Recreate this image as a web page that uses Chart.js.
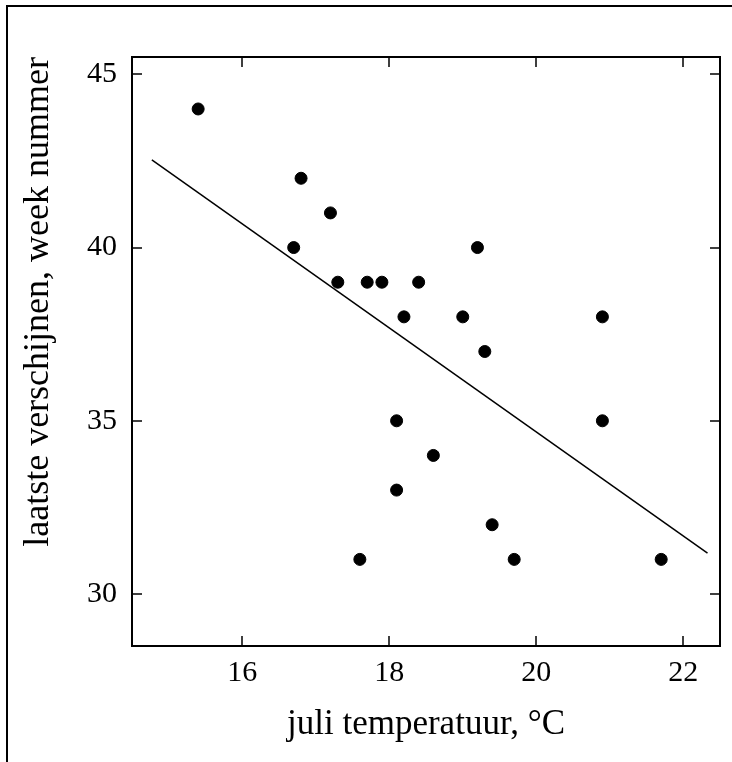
<!DOCTYPE html>
<html>
<head>
<meta charset="utf-8">
<script src="https://cdn.jsdelivr.net/npm/chart.js@4"></script>
<style>
  body { margin: 0; background: #fff; }
  canvas { display: block; }
</style>
</head>
<body>
<canvas id="ctx" width="732" height="762"></canvas>
<script>
// july temperature (°C) and week number of last appearance
const temps = [15.4, 16.8, 16.7, 17.2, 17.3, 17.7, 17.9, 18.2, 18.4, 19.0, 19.2,
               19.3, 20.9, 20.9, 18.1, 18.6, 18.1, 17.6, 19.4, 19.7, 21.7];
const weeks = [44, 42, 40, 41, 39, 39, 39, 38, 39, 38, 40,
               37, 38, 35, 35, 34, 33, 31, 32, 31, 31];

// regression line end points
const fitX = [14.77, 22.33];
const fitY = [42.53, 31.18];

const xTicks = [16, 18, 20, 22];
const yTicks = [30, 35, 40, 45];

const serif = '"Liberation Serif", "Times New Roman", serif';

// frame with inward ticks on all four sides + page border
const framePlugin = {
  id: 'frame',
  beforeDraw(chart) {
    const c = chart.ctx;
    c.save();
    c.fillStyle = '#fff';
    c.fillRect(0, 0, chart.width, chart.height);
    c.strokeStyle = '#000';
    c.lineWidth = 2;
    c.beginPath();
    c.moveTo(7, chart.height);
    c.lineTo(7, 6);
    c.lineTo(chart.width, 6);
    c.stroke();
    c.restore();
  },
  afterDraw(chart) {
    const c = chart.ctx;
    const a = chart.chartArea;
    const x = chart.scales.x, y = chart.scales.y;
    const len = 10;
    c.save();
    c.strokeStyle = '#000';
    c.lineWidth = 2;
    c.strokeRect(a.left, a.top, a.right - a.left, a.bottom - a.top);
    c.lineWidth = 1.5;
    c.beginPath();
    xTicks.forEach(v => {
      const px = Math.round(x.getPixelForValue(v));
      c.moveTo(px, a.bottom); c.lineTo(px, a.bottom - len);
      c.moveTo(px, a.top); c.lineTo(px, a.top + len);
    });
    yTicks.forEach(v => {
      const py = Math.round(y.getPixelForValue(v));
      c.moveTo(a.left, py); c.lineTo(a.left + len, py);
      c.moveTo(a.right, py); c.lineTo(a.right - len, py);
    });
    c.stroke();
    c.restore();
  }
};

const chart = new Chart(document.getElementById('ctx'), {
  type: 'scatter',
  data: {
    datasets: [{
      data: temps.map((t, i) => ({ x: t, y: weeks[i] })),
      backgroundColor: '#000',
      borderColor: '#000',
      pointRadius: 6,
      pointHoverRadius: 6
    }, {
      type: 'line',
      data: fitX.map((t, i) => ({ x: t, y: fitY[i] })),
      borderColor: '#000',
      borderWidth: 1.5,
      pointRadius: 0,
      fill: false
    }]
  },
  options: {
    responsive: false,
    animation: false,
    events: [],
    layout: { padding: { top: 57, right: 12, left: 0, bottom: 0 } },
    plugins: {
      legend: { display: false },
      tooltip: { enabled: false }
    },
    scales: {
      x: {
        type: 'linear',
        min: 14.5,
        max: 22.5,
        afterBuildTicks: axis => { axis.ticks = xTicks.map(v => ({ value: v })); },
        afterFit: axis => { axis.height = 116; },
        grid: { display: false, drawTicks: false },
        border: { display: false },
        ticks: {
          color: '#000',
          padding: 9,
          maxRotation: 0,
          font: { family: serif, size: 30 }
        },
        title: {
          display: true,
          text: 'juli temperatuur, °C',
          color: '#000',
          padding: { top: 0, bottom: 16 },
          font: { family: serif, size: 35 }
        }
      },
      y: {
        min: 28.5,
        max: 45.5,
        afterBuildTicks: axis => { axis.ticks = yTicks.map(v => ({ value: v })); },
        afterFit: axis => { axis.width = 132; },
        grid: { display: false, drawTicks: false },
        border: { display: false },
        ticks: {
          color: '#000',
          padding: 15,
          font: { family: serif, size: 30 }
        },
        title: {
          display: true,
          text: 'laatste verschijnen, week nummer',
          align: 'end',
          color: '#000',
          padding: { top: 17, bottom: 0 },
          font: { family: serif, size: 36 }
        }
      }
    }
  },
  plugins: [framePlugin]
});
</script>
</body>
</html>
